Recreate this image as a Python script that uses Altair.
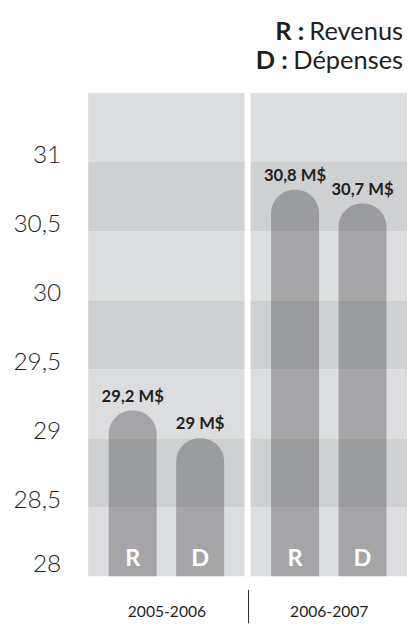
import altair as alt
import pandas as pd

periods = ["2005-2006", "2006-2007"]
series = ["R", "D"]
revenus = [29.2, 30.8]
depenses = [29.0, 30.7]
band_starts = [28.0, 28.5, 29.0, 29.5, 30.0, 30.5, 31.0]
band_shades = ["light", "dark", "light", "dark", "light", "dark", "light"]
y_ticks = [28, 28.5, 29, 29.5, 30, 30.5, 31]
legend_keys = ["R :", "D :"]
legend_names = ["Revenus", "Dépenses"]

W, H = 160, 494
YMIN, YMAX = 28, 31.5
FONT = "Lato"
INK = "#231f20"
KEY_X = [55, 38]          # right edge of the bold legend keys (panel px)
LEG_Y = [-54, -25]        # legend baselines (panel px)

bands = pd.DataFrame({
    "y0": band_starts,
    "y1": [b + 0.5 for b in band_starts],
    "shade": band_shades,
})


def fmt(v):
    return f"{v:g}".replace(".", ",") + " M$"


yscale = alt.Scale(domain=[YMIN, YMAX], nice=False, zero=False)
xscale = alt.Scale(domain=series, paddingInner=20 / 69, paddingOuter=21 / 69)

yaxis = alt.Axis(
    values=y_ticks,
    labelExpr="replace(format(datum.value, '~g'), '.', ',')",
    labelFont=FONT, labelFontSize=25, labelFontWeight=300, labelColor=INK,
    labelPadding=28, ticks=False, domain=False, grid=False, title=None,
    labelBaseline={"condition": {"test": "datum.value == 28", "value": "bottom"},
                   "value": "alphabetic"},
)

one = pd.DataFrame({"k": [0]})


def panel(i, first):
    bars = pd.DataFrame({"serie": series, "valeur": [revenus[i], depenses[i]]})
    bars["label"] = bars["valeur"].map(fmt)

    bg = alt.Chart(bands).mark_rect().encode(
        x=alt.value(0), x2=alt.value(W),
        y=alt.Y("y0:Q", scale=yscale, axis=yaxis if first else None),
        y2="y1:Q",
        color=alt.Color("shade:N", scale=alt.Scale(domain=["light", "dark"],
                                                    range=["#dcdddf", "#cfd0d2"]),
                        legend=None),
    )
    xenc = alt.X("serie:N", scale=xscale, sort=series,
                 axis=alt.Axis(labels=False, ticks=False, domain=False,
                               title=periods[i], titleFont=FONT, titleFontSize=16,
                               titleFontWeight="normal", titleColor=INK,
                               titlePadding=28))
    bar = alt.Chart(bars).mark_bar(
        color="black", opacity=0.25, cornerRadiusTopLeft=24, cornerRadiusTopRight=24
    ).encode(x=xenc, y=alt.Y("valeur:Q", scale=yscale), y2=alt.datum(YMIN))
    val = alt.Chart(bars).mark_text(
        font=FONT, fontWeight="bold", fontSize=17, color=INK,
        baseline="alphabetic", dy=-9
    ).encode(x=alt.X("serie:N", scale=xscale, sort=series), y="valeur:Q", text="label:N")
    letters = alt.Chart(bars).mark_text(
        font=FONT, fontWeight="bold", fontSize=24, color="white",
        baseline="alphabetic", dy=-10
    ).encode(x=alt.X("serie:N", scale=xscale, sort=series), y=alt.datum(YMIN), text="serie:N")
    layers = [bg, bar, val, letters]
    if first:
        # invisible anchor fixing the top-left corner of the layout
        layers.append(alt.Chart(one).mark_rule(strokeOpacity=0, strokeWidth=0).encode(
            x=alt.value(-82), x2=alt.value(-82), y=alt.value(-80), y2=alt.value(-80)))
    else:
        sep = alt.Chart(one).mark_rule(color=INK, strokeWidth=1).encode(
            x=alt.value(-2), y=alt.value(H + 14), y2=alt.value(H + 48))
        layers.append(sep)
        for j, (k, n) in enumerate(zip(legend_keys, legend_names)):
            d = pd.DataFrame({"k": [k], "n": [n]})
            layers.append(alt.Chart(d).mark_text(
                font=FONT, fontWeight="bold", fontSize=26, color=INK,
                align="right", baseline="alphabetic").encode(
                x=alt.value(KEY_X[j]), y=alt.value(LEG_Y[j]), text="k:N"))
            layers.append(alt.Chart(d).mark_text(
                font=FONT, fontSize=26, color=INK,
                align="right", baseline="alphabetic").encode(
                x=alt.value(156), y=alt.value(LEG_Y[j]), text="n:N"))
    return alt.layer(*layers).properties(width=W, height=H)


chart = alt.hconcat(panel(0, True), panel(1, False), spacing=6,
                    bounds="flush").configure_view(
    stroke=None
).properties(padding={"left": 0, "top": 0, "right": 0, "bottom": 0})

chart.save("out.html", embed_options={"renderer": "svg", "actions": False})
